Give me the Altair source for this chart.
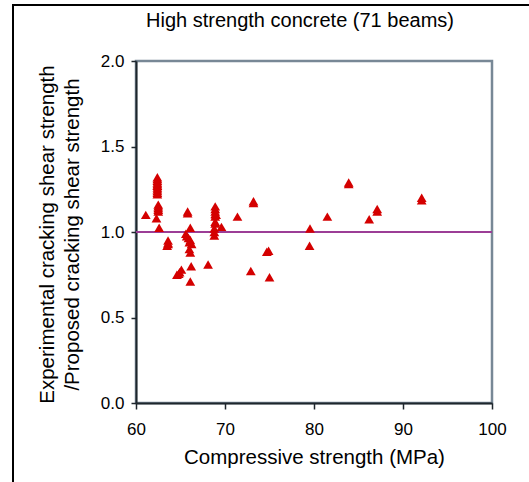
import altair as alt
import pandas as pd

# ---- data ----
strength = [
    62.4, 62.4, 62.4, 62.4, 62.4, 62.4, 62.4, 62.4, 62.4, 62.4, 62.4,
    62.5, 62.5, 62.5, 62.5, 62.5,
    62.3, 62.6, 61.1,
    63.6, 63.6, 63.5,
    65.8, 65.8, 66.1, 65.7, 65.9, 66.1, 66.25, 66.1, 66.0, 66.0, 65.6,
    66.2, 65.1, 64.9, 64.6, 64.8, 66.1, 68.1,
    68.9, 68.9, 68.9, 68.9, 68.9, 68.9, 68.9, 69.0,
    68.8, 68.8, 68.8, 69.6, 71.4,
    73.2, 73.2, 72.9,
    74.9, 74.7, 75.0,
    79.5, 79.55, 81.5,
    83.9, 83.9, 86.2, 87.1, 87.1,
    92.1, 92.1, 62.4, 63.6,
]
ratio = [
    1.32, 1.31, 1.30, 1.29, 1.28, 1.27, 1.26, 1.25, 1.24, 1.23, 1.22,
    1.16, 1.15, 1.14, 1.13, 1.12,
    1.08, 1.025, 1.10,
    0.95, 0.935, 0.92,
    1.11, 1.12, 1.025, 0.975, 0.965, 0.953, 0.93, 0.88, 0.94, 0.90, 0.99,
    0.80, 0.78, 0.765, 0.75, 0.755, 0.71, 0.81,
    1.15, 1.135, 1.12, 1.105, 1.09, 1.06, 1.05, 1.10,
    1.02, 1.00, 0.98, 1.03, 1.09,
    1.18, 1.17, 0.772,
    0.89, 0.885, 0.735,
    0.92, 1.02, 1.09,
    1.29, 1.28, 1.075, 1.135, 1.12,
    1.20, 1.185, 1.27, 0.93,
]
reference_level = [1.0]

x_ticks = [60, 70, 80, 90, 100]
y_ticks = [0.0, 0.5, 1.0, 1.5, 2.0]

TITLE = "High strength concrete (71 beams)"
X_TITLE = "Compressive strength (MPa)"
Y_TITLE = ["Experimental cracking shear strength", "/Proposed cracking shear strength"]

FONT = "Liberation Sans"
W, H = 356, 342

df = pd.DataFrame({"strength": strength, "ratio": ratio})
ref_df = pd.DataFrame({"ratio": reference_level})
one = pd.DataFrame({"k": [0]})
title_df = pd.DataFrame({"title": [TITLE]})

x_scale = alt.Scale(domain=[60, 100], nice=False, zero=False)
y_scale = alt.Scale(domain=[0, 2], nice=False, zero=False)

x_axis = alt.Axis(
    values=x_ticks, title=X_TITLE, format="d",
    labelBaseline="alphabetic", labelPadding=25, tickSize=6, labelFlush=False,
    titleX=178, titleY=60, titleBaseline="alphabetic", titleAlign="center",
)
y_axis = alt.Axis(
    values=y_ticks, title=Y_TITLE, format=".1f",
    tickSize=5, labelPadding=7,
    titleAngle=-90, titleX=-83, titleY=173, titleBaseline="alphabetic",
    titleAlign="center", titleLineHeight=25,
)

points = alt.Chart(df).mark_point(
    shape="triangle-up", filled=True, size=95, color="#d40000", opacity=1
).encode(
    x=alt.X("strength:Q", scale=x_scale, axis=x_axis),
    y=alt.Y("ratio:Q", scale=y_scale, axis=y_axis),
)

ref = alt.Chart(ref_df).mark_rule(color="#9c3d96", strokeWidth=2).encode(
    y=alt.Y("ratio:Q", scale=y_scale, axis=y_axis)
)

# outer figure frame: only its left and top edges fall inside the picture
frame = alt.Chart(one).mark_rect(
    filled=False, stroke="black", strokeWidth=2, fillOpacity=0
).encode(
    x=alt.value(-123), x2=alt.value(520), y=alt.value(-56), y2=alt.value(520)
)

title_text = alt.Chart(title_df).mark_text(
    font=FONT, fontSize=20, color="black", align="center", baseline="alphabetic"
).encode(
    text="title:N", x=alt.value(164), y=alt.value(-34)
)

chart = alt.layer(ref, points, frame, title_text).properties(
    width=W, height=H,
    padding={"left": 136, "top": 61, "right": 37, "bottom": 79},
    autosize=alt.AutoSizeParams(type="none"),
).configure(background="white").configure_view(
    stroke="#788896", strokeWidth=2.5
).configure_axis(
    domainColor="#1e262c", domainWidth=2, tickColor="#1e262c", tickWidth=1.5,
    labelFont=FONT, labelFontSize=17, labelColor="black",
    titleFont=FONT, titleFontSize=20.5, titleFontWeight="normal", titleColor="black",
    grid=False,
)

chart.save("out.html", embed_options={"renderer": "svg", "actions": False})
